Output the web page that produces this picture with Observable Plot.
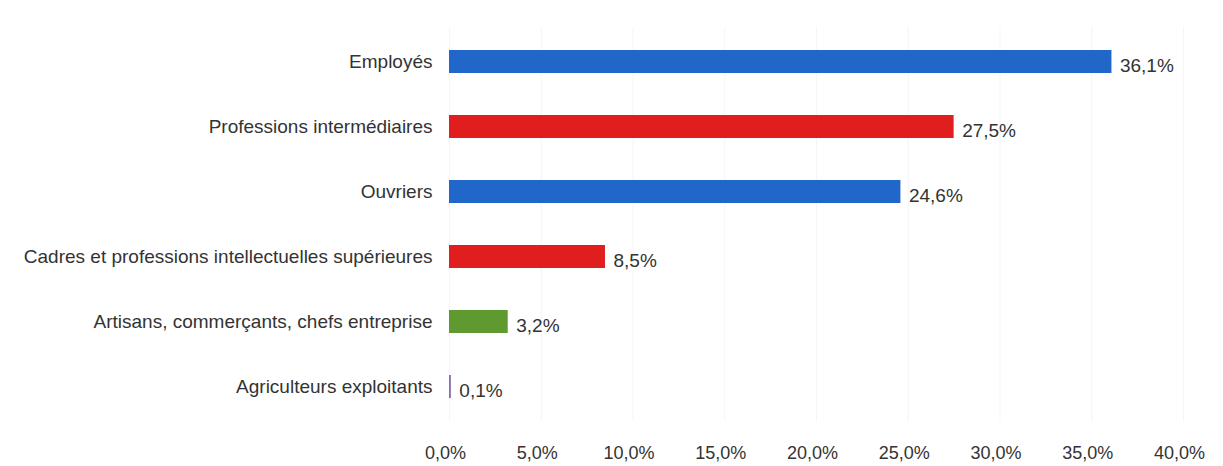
<!DOCTYPE html>
<html>
<head>
<meta charset="utf-8">
<script src="https://cdn.jsdelivr.net/npm/d3@7"></script>
<script src="https://cdn.jsdelivr.net/npm/@observablehq/plot@0.6"></script>
<style>
  html, body { margin: 0; padding: 0; background: #fff; }
  svg { display: block; }
</style>
</head>
<body>
<div id="chart"></div>
<script>
const categories = [
  "Employés",
  "Professions intermédiaires",
  "Ouvriers",
  "Cadres et professions intellectuelles supérieures",
  "Artisans, commerçants, chefs entreprise",
  "Agriculteurs exploitants"
];
const values = [36.1, 27.5, 24.6, 8.5, 3.2, 0.1];
const colors = ["#2166c9", "#e01e1e", "#2166c9", "#e01e1e", "#5f9a30", "#8a6bb5"];
const xTicks = [0, 5, 10, 15, 20, 25, 30, 35, 40];

const data = categories.map((c, i) => ({ category: c, value: values[i], color: colors[i] }));
const fr = d3.formatLocale({ decimal: ",", thousands: " ", grouping: [3], currency: ["", " €"] });
const pct = v => fr.format(".1f")(v) + "%";

const chart = Plot.plot({
  width: 1223,
  height: 466,
  marginLeft: 449,
  marginRight: 40,
  marginTop: 27,
  marginBottom: 45,
  style: { fontFamily: "'Liberation Sans', Arial, sans-serif", fontSize: "19px", color: "#333", background: "#fff" },
  x: { domain: [0, 40], label: null },
  y: { domain: categories, label: null, paddingInner: 0.64, paddingOuter: 0.32 },
  marks: [
    Plot.ruleX(xTicks, { stroke: "#f5f5f5", strokeWidth: 1 }),
    Plot.axisX({ ticks: xTicks, tickFormat: pct, tickSize: 0, tickPadding: 25, dx: -4, fontSize: 18, label: null }),
    Plot.axisY({ tickSize: 0, tickPadding: 17, fontSize: 19, label: null }),
    Plot.barX(data, { x: "value", y: "category", fill: "color" }),
    Plot.text(data, { x: "value", y: "category", text: d => pct(d.value), textAnchor: "start", dx: 8, dy: 4, fill: "#333", fontSize: 19 })
  ]
});
document.getElementById("chart").appendChild(chart);
</script>
</body>
</html>
